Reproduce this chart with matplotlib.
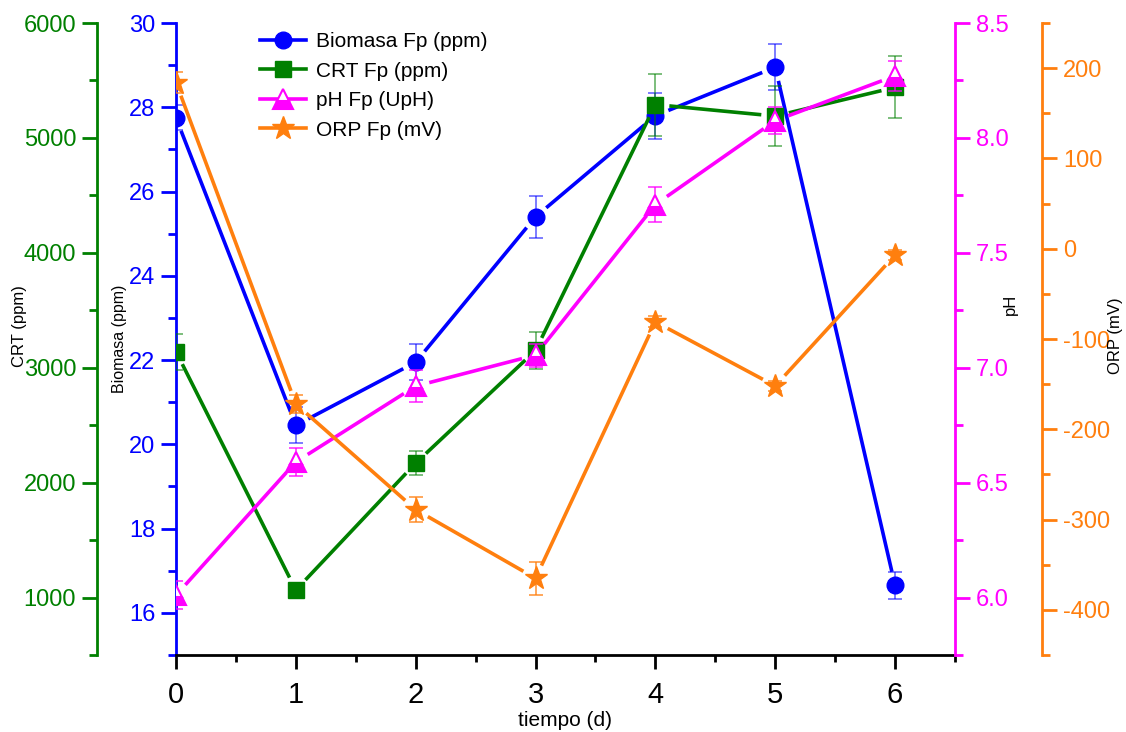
import numpy as np
import matplotlib.pyplot as plt
from matplotlib.lines import Line2D
from matplotlib.ticker import MultipleLocator

plt.rcParams['font.family'] = ['Liberation Sans', 'DejaVu Sans']
plt.rcParams['axes.unicode_minus'] = False

dias = [0, 1, 2, 3, 4, 5, 6]

biomasa = [27.75, 20.45, 21.95, 25.4, 27.8, 28.95, 16.65]
biomasa_err = [0.3, 0.43, 0.43, 0.5, 0.55, 0.55, 0.33]

crt = [3140, 1065, 2170, 3150, 5290, 5190, 5440]
crt_err = [157, 30, 105, 157, 270, 260, 270]

ph = [6.01, 6.59, 6.92, 7.055, 7.71, 8.075, 8.27]
ph_err = [0.06, 0.06, 0.07, 0.05, 0.075, 0.06, 0.065]

orp = [184, -172, -289, -365, -81, -152, -7]
orp_err = [12, 10, 14, 18, 6, 6, 6]

azul = '#0000FF'
verde = '#008000'
magenta = '#FF00FF'
naranja = '#FF7F0E'

fig = plt.figure(figsize=(11.26, 7.32), dpi=100)
ax = fig.add_axes([176/1126, 1-655/732, (955-176)/1126, (655-23)/732])
ax_crt = ax.twinx()
ax_ph = ax.twinx()
ax_orp = ax.twinx()

ax.set_xlim(0, 6.5)
ax.set_ylim(15, 30)
ax_crt.set_ylim(500, 6000)
ax_ph.set_ylim(5.75, 8.5)
ax_orp.set_ylim(-450, 250)

lw = 2.6
ms = 12
gap = 14  # px between line ends and markers


def linea_con_huecos(a, x, y, color):
    # segments shortened at both ends so the line stops short of each marker
    pts = a.transData.transform(np.column_stack([x, y]))
    for p0, p1 in zip(pts[:-1], pts[1:]):
        d = p1 - p0
        n = np.hypot(*d)
        if n <= 2 * gap:
            continue
        u = d / n
        q = a.transData.inverted().transform([p0 + u * gap, p1 - u * gap])
        a.plot(q[:, 0], q[:, 1], color=color, lw=lw, solid_capstyle='butt')


series = [
    (ax, biomasa, biomasa_err, azul, dict(marker='o', ms=ms), 'Biomasa Fp (ppm)', 0.6),
    (ax_crt, crt, crt_err, verde, dict(marker='s', ms=ms - 1), 'CRT Fp (ppm)', 0.6),
    (ax_ph, ph, ph_err, magenta,
     dict(marker='^', ms=ms + 2, fillstyle='bottom', markerfacecoloralt='white',
          markeredgewidth=1.5), 'pH Fp (UpH)', 0.8),
    (ax_orp, orp, orp_err, naranja, dict(marker='*', ms=ms + 5), 'ORP Fp (mV)', 0.8),
]

handles = []
for a, vals, err, c, mk, nombre, alfa in series:
    a.errorbar(dias, vals, yerr=err, fmt='none', ecolor=c, alpha=alfa,
               elinewidth=1.2, capsize=5, capthick=1.2)
    linea_con_huecos(a, dias, vals, c)
    a.plot(dias, vals, ls='none', color=c, **mk)
    handles.append(Line2D([], [], color=c, lw=lw, label=nombre, **mk))

for a in (ax, ax_crt, ax_ph, ax_orp):
    for s in a.spines.values():
        s.set_visible(False)

ax.spines['bottom'].set_visible(True)
ax.spines['bottom'].set_linewidth(2)
ax.spines['left'].set_visible(True)
ax.spines['left'].set_color(azul)
ax.spines['left'].set_linewidth(2)

ax_crt.yaxis.set_ticks_position('left')
ax_crt.yaxis.set_label_position('left')
ax_crt.spines['left'].set_visible(True)
ax_crt.spines['left'].set_position(('axes', -0.1014))
ax_crt.spines['left'].set_color(verde)
ax_crt.spines['left'].set_linewidth(2)

ax_ph.spines['right'].set_visible(True)
ax_ph.spines['right'].set_color(magenta)
ax_ph.spines['right'].set_linewidth(2)

ax_orp.spines['right'].set_visible(True)
ax_orp.spines['right'].set_position(('axes', 1.1117))
ax_orp.spines['right'].set_color(naranja)
ax_orp.spines['right'].set_linewidth(2)

ax.xaxis.set_major_locator(MultipleLocator(1))
ax.xaxis.set_minor_locator(MultipleLocator(0.5))
ax.tick_params(axis='x', which='major', length=10, width=2, labelsize=21,
               pad=9)
ax.tick_params(axis='x', which='minor', length=5, width=2)

ax.yaxis.set_major_locator(MultipleLocator(2))
ax.yaxis.set_minor_locator(MultipleLocator(1))
ax_crt.yaxis.set_major_locator(MultipleLocator(1000))
ax_crt.yaxis.set_minor_locator(MultipleLocator(500))
ax_ph.yaxis.set_major_locator(MultipleLocator(0.5))
ax_ph.yaxis.set_minor_locator(MultipleLocator(0.25))
ax_ph.yaxis.set_major_formatter('{x:.1f}')
ax_orp.yaxis.set_major_locator(MultipleLocator(100))
ax_orp.yaxis.set_minor_locator(MultipleLocator(50))

for a, c in ((ax, azul), (ax_crt, verde), (ax_ph, magenta), (ax_orp, naranja)):
    a.tick_params(axis='y', which='major', length=11, width=2, color=c,
                  labelcolor=c, labelsize=17, pad=4)
    a.tick_params(axis='y', which='minor', length=6, width=2, color=c)

ax.set_xlabel('tiempo (d)', fontsize=15, labelpad=1)
ax.set_ylabel('Biomasa (ppm)', fontsize=11.5)
ax_crt.set_ylabel('CRT (ppm)', fontsize=12)
ax_ph.set_ylabel('pH', fontsize=12)
ax_orp.set_ylabel('ORP (mV)', fontsize=12)
ax.yaxis.set_label_coords(-0.063, 0.5)
ax_crt.yaxis.set_label_coords(-0.191, 0.52)
ax_ph.yaxis.set_label_coords(1.062, 0.554)
ax_orp.yaxis.set_label_coords(1.196, 0.506)

fig.legend(handles=handles, loc='upper left',
           bbox_to_anchor=(252/1126, 1-24/732), frameon=False, fontsize=15,
           handlelength=2.2, handletextpad=0.45, labelspacing=0.5,
           borderaxespad=0)

fig.savefig('out.png', dpi=100)
